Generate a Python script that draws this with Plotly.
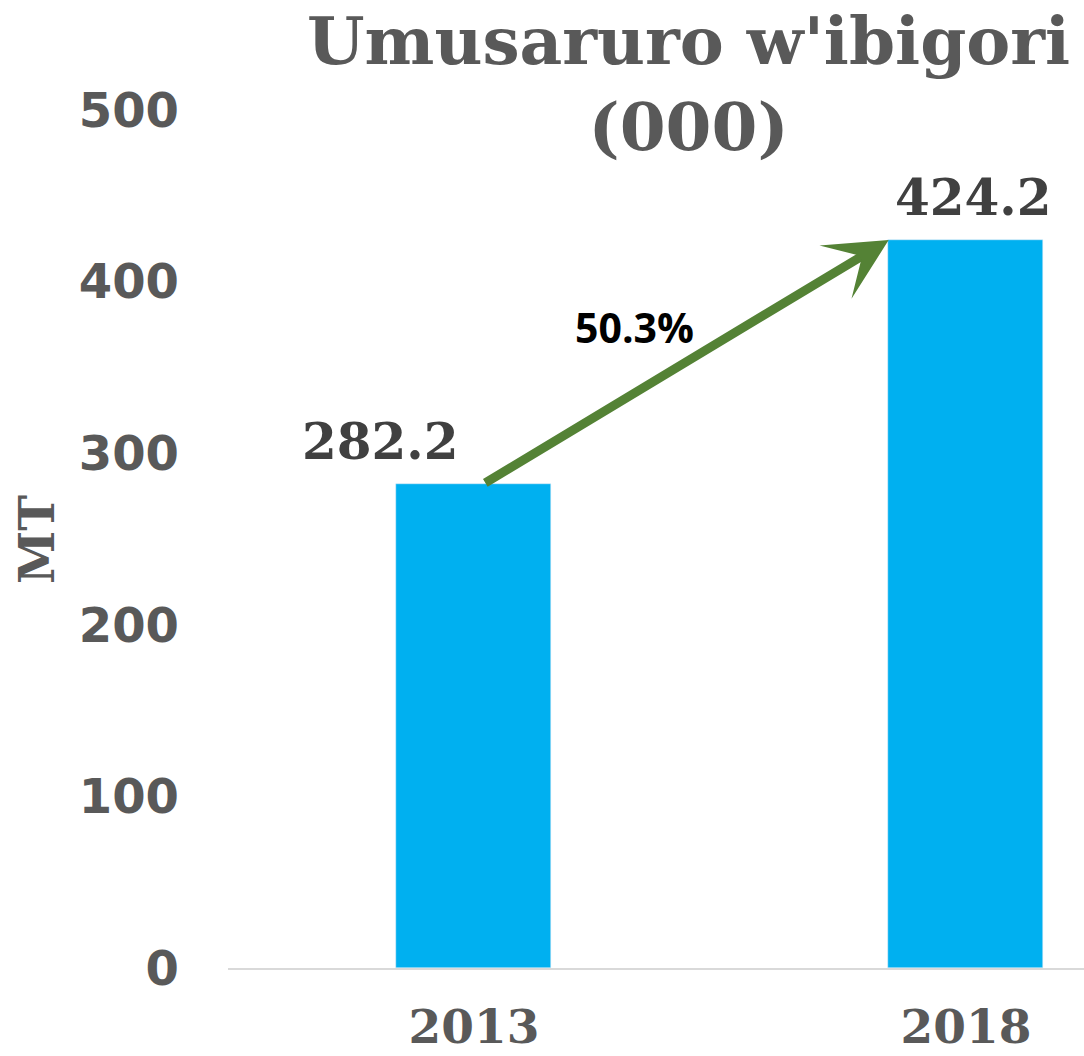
import plotly.graph_objects as go

years = ["2013", "2018"]
production = [282.2, 424.2]
y_ticks = [0, 100, 200, 300, 400, 500]
title_lines = ["Umusaruro w'ibigori", "(000)"]
y_title = "MT"

growth = (production[1] / production[0] - 1) * 100

W, H = 1084, 1056
ML, MR, MT_, MB = 228, 0, 110, 88
pw = W - ML - MR
ph = H - MT_ - MB

def px2paper_x(px):
    return (px - ML) / pw

def px2paper_y(py):
    return (H - MB - py) / ph

serif = "DejaVu Serif"
gray = "#595959"

fig = go.Figure()
fig.add_trace(go.Bar(
    x=years, y=production, marker_color="#00B0F0", width=0.315,
    hoverinfo="skip", showlegend=False,
))

# data labels
label_dx = [-0.19, 0.016]
for i, (yr, v) in enumerate(zip(years, production)):
    fig.add_annotation(
        x=i + label_dx[i], y=v, xref="x", yref="y",
        text=f"{v:.1f}", showarrow=False, xanchor="center", yanchor="bottom",
        yshift=11,
        font=dict(family=serif, size=50, color="#404040", weight="bold"),
    )

# growth arrow
fig.add_annotation(
    x=1 - 0.157, y=production[1], ax=0.02, ay=production[0],
    xref="x", yref="y", axref="x", ayref="y",
    text="", showarrow=True, arrowhead=3, arrowsize=1.15, arrowwidth=9,
    arrowcolor="#548235",
)
fig.add_annotation(
    x=px2paper_x(634), y=px2paper_y(327), xref="paper", yref="paper",
    xanchor="center", yanchor="middle",
    text=f"{growth:.1f}%", showarrow=False,
    font=dict(family="Open Sans", size=41, color="#000000", weight="bold"),
)

# title
fig.add_annotation(
    x=px2paper_x(688), y=px2paper_y(84), xref="paper", yref="paper",
    xanchor="center", yanchor="middle",
    text="<br>".join(title_lines), showarrow=False,
    font=dict(family=serif, size=66, color=gray, weight="bold"),
)

# y-axis title
fig.add_annotation(
    x=px2paper_x(37), y=px2paper_y(540), xref="paper", yref="paper",
    xanchor="center", yanchor="middle",
    text=y_title, showarrow=False, textangle=-90,
    font=dict(family=serif, size=48, color=gray, weight="bold"),
)

fig.update_layout(
    width=W, height=H,
    margin=dict(l=ML, r=MR, t=MT_, b=MB, pad=0, autoexpand=False),
    paper_bgcolor="white", plot_bgcolor="white",
    showlegend=False,
    bargap=0,
)
fig.update_xaxes(
    type="category", range=[-0.5, 1.24], automargin=False,
    showline=True, linecolor="#D9D9D9", linewidth=2,
    showgrid=False, ticks="", ticklabelstandoff=17,
    tickfont=dict(family=serif, size=47, color=gray, weight="bold"),
)
fig.update_yaxes(
    range=[0, 500], tickvals=y_ticks, automargin=False,
    showline=False, showgrid=False, zeroline=False, ticks="",
    ticklabelstandoff=48,
    tickfont=dict(family="DejaVu Sans", size=48, color=gray, weight="bold"),
)

fig.write_html(
    "out.html",
    config={"displayModeBar": False},
    post_script="document.body.style.margin='0';document.body.style.overflow='hidden';",
)
